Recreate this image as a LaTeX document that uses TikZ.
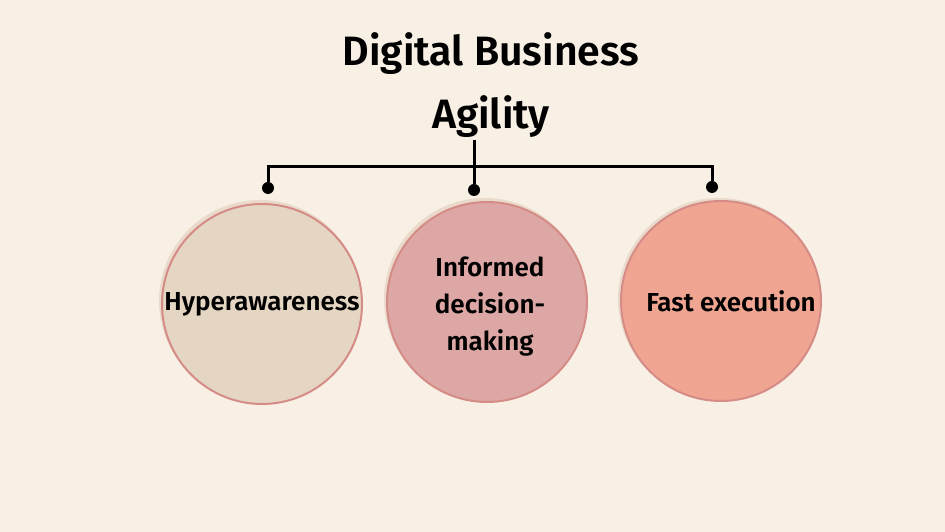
\documentclass[tikz,border=0pt]{standalone}
\usepackage{fontspec}
\setmainfont{Fira Sans}[BoldFont={Fira Sans SemiBold}]
\usetikzlibrary{calc}
\definecolor{bgcream}{HTML}{F8F0E5}
\definecolor{sandfill}{HTML}{E5D6C3}
\definecolor{rosefill}{HTML}{DCA7A4}
\definecolor{salmonfill}{HTML}{EFA592}
\definecolor{ringpink}{HTML}{D68C86}
\definecolor{shadowtan}{HTML}{E9DACB}

\begin{document}
\begin{tikzpicture}[x=1pt,y=1pt,
		bubble/.style={circle,draw=ringpink,line width=2pt,minimum size=200pt,inner sep=0pt},
		rim/.style={circle,fill=shadowtan,minimum size=202pt,inner sep=0pt},
		caption/.style={align=center,font=\fontsize{26}{37}\selectfont\bfseries},
		dot/.style={circle,fill=black,inner sep=0pt,minimum size=12pt},
		wire/.style={line width=3pt}]
	\fill[bgcream] (0,0) rectangle (945,532);
	\useasboundingbox (0,0) rectangle (945,532);
	
	\node[align=center,font=\fontsize{41}{63}\selectfont\bfseries] (title) at (491,447) {Digital Business\\Agility};
	
	\coordinate (stem) at (474,392);
	\coordinate (barL) at (268,365);
	\coordinate (barR) at (712,365);
	\node[dot] (dL) at (268,344) {};
	\node[dot] (dM) at (474,342) {};
	\node[dot] (dR) at (712,345) {};
	
	\draw[wire] (stem) -- (dM);
	\draw[wire] (dL) -- (barL) -- (barR) -- (dR);
	
	\node[rim] at (260,231) {};
	\node[rim] at (485,233) {};
	\node[rim] at (719,233) {};
	\node[bubble,fill=sandfill] (hyper) at (262,228) {};
	\node[bubble,fill=rosefill] (informed) at (487,230) {};
	\node[bubble,fill=salmonfill] (fastex) at (721,231) {};
	
	\node[caption] at (hyper) {Hyperawareness};
	\node[caption] at ($(informed)+(3,-5)$) {Informed\\decision-\\making};
	\node[caption] at ($(fastex)+(10,0)$) {Fast execution};
\end{tikzpicture}
\end{document}
